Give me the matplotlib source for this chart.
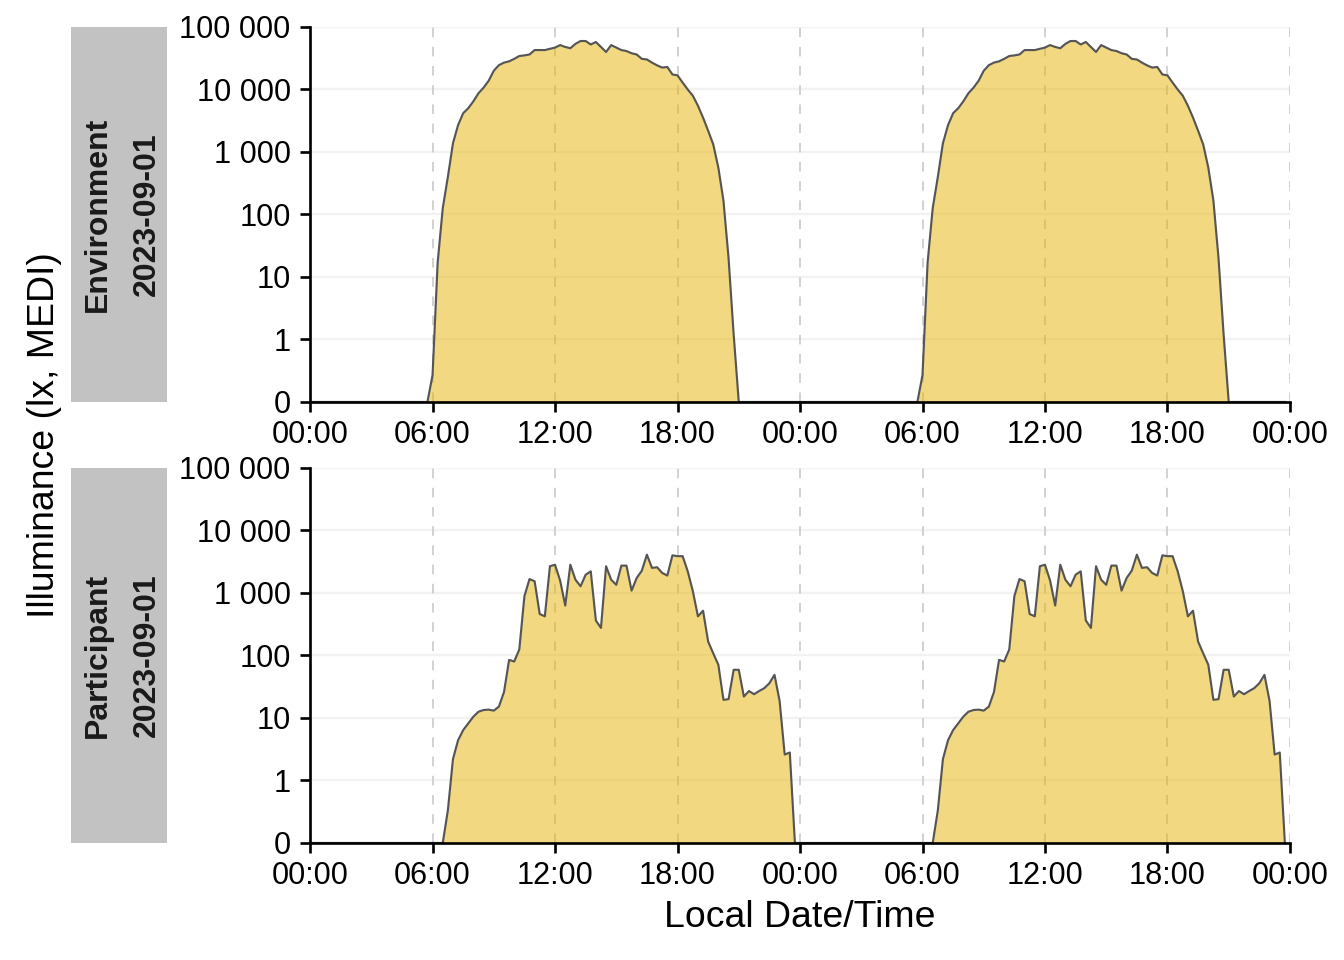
import numpy as np
import matplotlib
matplotlib.use("Agg")
import matplotlib.pyplot as plt
import matplotlib.patches as mpatches
from matplotlib.ticker import FixedLocator, NullLocator

plt.rcParams['font.family'] = ['Liberation Sans', 'DejaVu Sans']

# 15-minute bins of one day (hours), the day is drawn twice (double plot)
hours = np.arange(0, 24, 0.25)

# Environment sensor, lx (MEDI), 00:00 ... 23:45
env_lux = [
    0, 0, 0, 0, 0, 0, 0, 0, 0, 0, 0, 0,
    0, 0, 0, 0, 0, 0, 0, 0, 0, 0, 0, 0,
    0.43, 17, 126, 398, 1380, 2690, 4170, 5010,
    6460, 8710, 10700, 13800, 19950, 24500, 26900, 28200,
    30900, 34300, 35100, 36300, 42700, 42700, 42700, 44700,
    46800, 51300, 47900, 45700, 53700, 59600, 59600, 52500,
    57500, 47900, 39800, 51300, 46800, 42700, 41200, 38000,
    36300, 30900, 30200, 26900, 24300, 22400, 22900, 17400,
    16800, 12900, 10000, 7940, 5500, 3550, 2190, 1320,
    562, 166, 20, 1.2, 0, 0, 0, 0,
    0, 0, 0, 0, 0, 0, 0, 0,
]

# Participant wearable, lx (MEDI), 00:00 ... 23:45
part_lux = [
    0, 0, 0, 0, 0, 0, 0, 0, 0, 0, 0, 0,
    0, 0, 0, 0, 0, 0, 0, 0, 0, 0, 0, 0,
    0, 0, 0, 0.52, 2.2, 4.4, 6.4, 8.2,
    10.5, 12.6, 13.4, 13.6, 13.1, 15.2, 26, 85,
    80, 125, 890, 1670, 1540, 460, 423, 2680,
    2830, 1580, 630, 2830, 1630, 1280, 1960, 2220,
    363, 276, 2680, 1630, 1350, 2740, 2740, 1090,
    1740, 2270, 4100, 2520, 2580, 2090, 1900, 4000,
    3880, 3880, 2220, 1070, 423, 520, 167, 108,
    71, 19.5, 20, 59, 59, 22, 27, 24,
    27, 30, 36, 49, 18.8, 2.6, 2.8, 0,
]

paineis = ["Environment", "Participant"]
datas = ["2023-09-01", "2023-09-01"]
series = [env_lux, part_lux]

x_ticks = [0, 6, 12, 18, 24, 30, 36, 42, 48]
x_labels = ["00:00", "06:00", "12:00", "18:00", "00:00", "06:00", "12:00", "18:00", "00:00"]
y_ticks = [0, 1, 10, 100, 1000, 10000, 100000]
y_labels = ["0", "1", "10", "100", "1 000", "10 000", "100 000"]

fig, axes = plt.subplots(2, 1, figsize=(7, 5), dpi=192)
fig.subplots_adjust(left=0.2307, right=0.9598, top=0.9719, bottom=0.1219, hspace=0.176)

for ax, nome, data, valores in zip(axes, paineis, datas, series):
    valores = np.asarray(valores, dtype=float)
    x = np.concatenate([hours, hours + 24])
    y = np.concatenate([valores, valores])

    ax.fill_between(x, 0, y, color='#E5B305', alpha=0.5, linewidth=0, zorder=2)
    ax.plot(x, y, color='#555555', linewidth=0.8, zorder=3)

    # symlog with 0..1 taking the same room as one decade
    ax.set_yscale('symlog', linthresh=1, linscale=0.9)
    ax.set_ylim(0, 100000)
    ax.set_xlim(0, 48)
    ax.yaxis.set_major_locator(FixedLocator(y_ticks))
    ax.yaxis.set_minor_locator(NullLocator())
    ax.set_yticklabels(y_labels)
    ax.set_xticks(x_ticks)
    ax.set_xticklabels(x_labels)

    for yv in y_ticks[1:]:
        ax.axhline(yv, color='#F2F2F2', linewidth=0.9, zorder=0)
    for xv in x_ticks[1:]:
        ax.axvline(xv, color='#C8C8C8', linewidth=0.6, linestyle=(0, (6, 6)), zorder=1)

    for lado in ['top', 'right']:
        ax.spines[lado].set_visible(False)
    for lado in ['left', 'bottom']:
        ax.spines[lado].set_linewidth(1.0)
        ax.spines[lado].set_zorder(4)
    ax.tick_params(axis='both', length=3.75, width=1.0, labelsize=11.5, colors='black')
    ax.tick_params(axis='y', pad=3.5)
    ax.tick_params(axis='x', pad=3)

    # strip on the left side of the panel
    faixa = mpatches.Rectangle((-0.2439, 0), 0.098, 1, transform=ax.transAxes,
                               facecolor='#C2C2C2', edgecolor='none', clip_on=False)
    ax.add_patch(faixa)
    ax.text(-0.2079, 0.5, nome, transform=ax.transAxes, rotation=90,
            rotation_mode='anchor', ha='center', va='baseline',
            fontsize=12, fontweight='bold', color='#1A1A1A')
    ax.text(-0.1586, 0.5, data, transform=ax.transAxes, rotation=90,
            rotation_mode='anchor', ha='center', va='baseline',
            fontsize=12, fontweight='bold', color='#1A1A1A')

fig.text(54.5 / 1344, 1 - 435 / 960, 'Illuminance (lx, MEDI)', rotation=90,
         rotation_mode='anchor', ha='center', va='baseline', fontsize=14)
fig.text(800 / 1344, 1 - 926.7 / 960, 'Local Date/Time', ha='center',
         va='baseline', fontsize=14)

plt.savefig('out.png', dpi=192)
